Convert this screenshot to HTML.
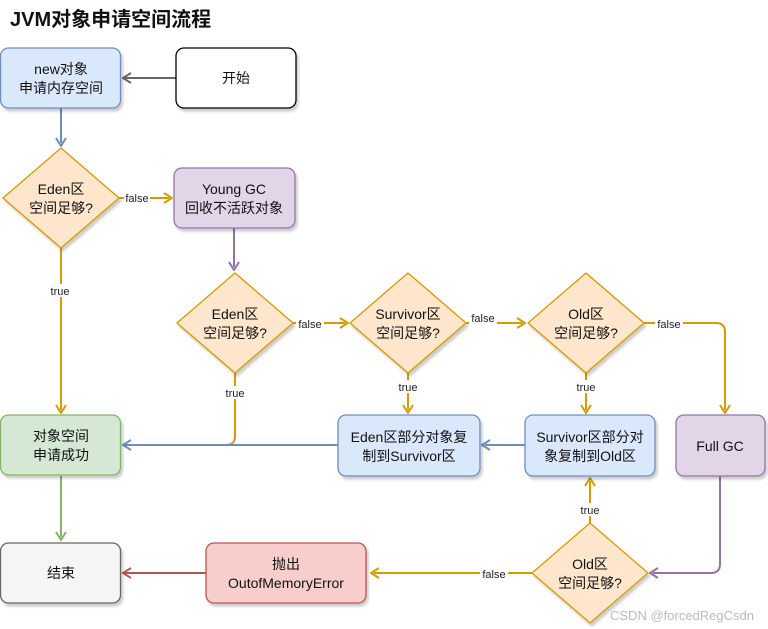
<!DOCTYPE html>
<html><head><meta charset="utf-8"><style>
html,body{margin:0;padding:0;background:#fff;}
svg{display:block;font-family:"Liberation Sans","Noto Sans CJK SC",sans-serif;}
</style></head><body>
<svg width="768" height="629" viewBox="0 0 768 629" xmlns="http://www.w3.org/2000/svg">
<defs>
<filter id="sh" x="-10%" y="-10%" width="130%" height="130%"><feDropShadow dx="2" dy="3" stdDeviation="1.2" flood-color="#000" flood-opacity="0.2"/></filter>
</defs>
<text x="10" y="26" font-size="20" font-weight="bold" fill="#111">JVM对象申请空间流程</text>

<!-- connectors -->
<g fill="none" stroke-width="2">
<path d="M176 78 H125" stroke="#666"/>
<path d="M61 108 V143" stroke="#6c8ebf"/>
<path d="M119 198 H169" stroke="#d79b00"/>
<path d="M61 248 V410" stroke="#d79b00"/>
<path d="M234 228 V267" stroke="#9673a6"/>
<path d="M293 323 H345" stroke="#d79b00"/>
<path d="M466 323 H522" stroke="#d79b00"/>
<path d="M644 323 H716 Q725 323 725 332 V410" stroke="#d79b00"/>
<path d="M235 373 V436 Q235 445 226 445 H125" stroke="#d79b00"/>
<path d="M408 373 V410" stroke="#d79b00"/>
<path d="M586 373 V410" stroke="#d79b00"/>
<path d="M338 445 H125" stroke="#6c8ebf"/>
<path d="M525 445 H485" stroke="#6c8ebf"/>
<path d="M61 476 V537" stroke="#82b366"/>
<path d="M590 523 V481" stroke="#d79b00"/>
<path d="M720 476 V564 Q720 573 711 573 H653" stroke="#9673a6"/>
<path d="M532 573 H374" stroke="#d79b00"/>
<path d="M206 573 H125" stroke="#b85450"/>
</g>
<!-- arrowheads -->
<g fill="none" stroke-width="2" stroke-linejoin="round">
<path d="M131 73 L123 78 L131 83" stroke="#666"/>
<path d="M56 138 L61 146 L66 138" stroke="#6c8ebf"/>
<path d="M164 193 L172 198 L164 203" stroke="#d79b00"/>
<path d="M56 405 L61 413 L66 405" stroke="#d79b00"/>
<path d="M229 262 L234 270 L239 262" stroke="#9673a6"/>
<path d="M340 318 L348 323 L340 328" stroke="#d79b00"/>
<path d="M517 318 L525 323 L517 328" stroke="#d79b00"/>
<path d="M720 405 L725 413 L730 405" stroke="#d79b00"/>
<path d="M403 405 L408 413 L413 405" stroke="#d79b00"/>
<path d="M581 405 L586 413 L591 405" stroke="#d79b00"/>
<path d="M131 440 L123 445 L131 450" stroke="#6c8ebf"/>
<path d="M490 440 L482 445 L490 450" stroke="#6c8ebf"/>
<path d="M56 532 L61 540 L66 532" stroke="#82b366"/>
<path d="M585 486 L590 478 L595 486" stroke="#d79b00"/>
<path d="M658 568 L650 573 L658 578" stroke="#9673a6"/>
<path d="M379 568 L371 573 L379 578" stroke="#d79b00"/>
<path d="M131 568 L123 573 L131 578" stroke="#b85450"/>
</g>

<!-- boxes -->
<g filter="url(#sh)" stroke-width="1.3">
<rect x="0.5" y="48" width="120" height="60" rx="8" fill="#dae8fc" stroke="#6c8ebf"/>
<rect x="176" y="48" width="120" height="60" rx="8" fill="#fff" stroke="#000"/>
<rect x="174" y="168" width="121" height="60" rx="8" fill="#e1d5e7" stroke="#9673a6"/>
<rect x="0.5" y="415" width="120" height="60" rx="8" fill="#d5e8d4" stroke="#82b366"/>
<rect x="338" y="415" width="142" height="61" rx="8" fill="#dae8fc" stroke="#6c8ebf"/>
<rect x="525" y="415" width="130" height="61" rx="8" fill="#dae8fc" stroke="#6c8ebf"/>
<rect x="676" y="415" width="89" height="61" rx="8" fill="#e1d5e7" stroke="#9673a6"/>
<rect x="0.5" y="543" width="120" height="60" rx="8" fill="#f5f5f5" stroke="#666"/>
<rect x="206" y="543" width="160" height="60" rx="8" fill="#f8cecc" stroke="#b85450"/>
<path d="M61 148 L119 198 L61 248 L3 198 Z" fill="#ffe6cc" stroke="#d79b00" stroke-linejoin="round"/>
<path d="M235 273 L293 323 L235 373 L177 323 Z" fill="#ffe6cc" stroke="#d79b00" stroke-linejoin="round"/>
<path d="M408 273 L466 323 L408 373 L350 323 Z" fill="#ffe6cc" stroke="#d79b00" stroke-linejoin="round"/>
<path d="M586 273 L644 323 L586 373 L528 323 Z" fill="#ffe6cc" stroke="#d79b00" stroke-linejoin="round"/>
<path d="M590 523 L648 573 L590 623 L532 573 Z" fill="#ffe6cc" stroke="#d79b00" stroke-linejoin="round"/>
</g>

<!-- labels -->
<g font-size="14" fill="#111" text-anchor="middle">
<text x="61" y="74">new对象</text><text x="61" y="93">申请内存空间</text>
<text x="236" y="83">开始</text>
<text x="234" y="194">Young GC</text><text x="234" y="213">回收不活跃对象</text>
<text x="61" y="194">Eden区</text><text x="61" y="213">空间足够?</text>
<text x="235" y="319">Eden区</text><text x="235" y="338">空间足够?</text>
<text x="408" y="319">Survivor区</text><text x="408" y="338">空间足够?</text>
<text x="586" y="319">Old区</text><text x="586" y="338">空间足够?</text>
<text x="590" y="569">Old区</text><text x="590" y="588">空间足够?</text>
<text x="61" y="441">对象空间</text><text x="61" y="460">申请成功</text>
<text x="409" y="442">Eden区部分对象复</text><text x="409" y="461">制到Survivor区</text>
<text x="590" y="442">Survivor区部分对</text><text x="590" y="461">象复制到Old区</text>
<text x="720" y="451">Full GC</text>
<text x="61" y="578">结束</text>
<text x="286" y="569">抛出</text><text x="286" y="588">OutofMemoryError</text>
</g>
<g font-size="11" fill="#222" text-anchor="middle">
<rect x="124" y="191" width="26" height="13" fill="#fff"/><text x="137" y="202">false</text>
<rect x="47" y="284" width="26" height="13" fill="#fff"/><text x="60" y="295">true</text>
<rect x="296" y="317" width="28" height="13" fill="#fff"/><text x="310" y="328">false</text>
<rect x="469" y="311" width="28" height="13" fill="#fff"/><text x="483" y="322">false</text>
<rect x="655" y="317" width="28" height="13" fill="#fff"/><text x="669" y="328">false</text>
<rect x="222" y="386" width="26" height="13" fill="#fff"/><text x="235" y="397">true</text>
<rect x="395" y="380" width="26" height="13" fill="#fff"/><text x="408" y="391">true</text>
<rect x="573" y="380" width="26" height="13" fill="#fff"/><text x="586" y="391">true</text>
<rect x="577" y="503" width="26" height="13" fill="#fff"/><text x="590" y="514">true</text>
<rect x="480" y="567" width="28" height="13" fill="#fff"/><text x="494" y="578">false</text>
</g>
<text x="610" y="620" font-size="13" fill="#bbb">CSDN @forcedRegCsdn</text>
</svg>
</body></html>
